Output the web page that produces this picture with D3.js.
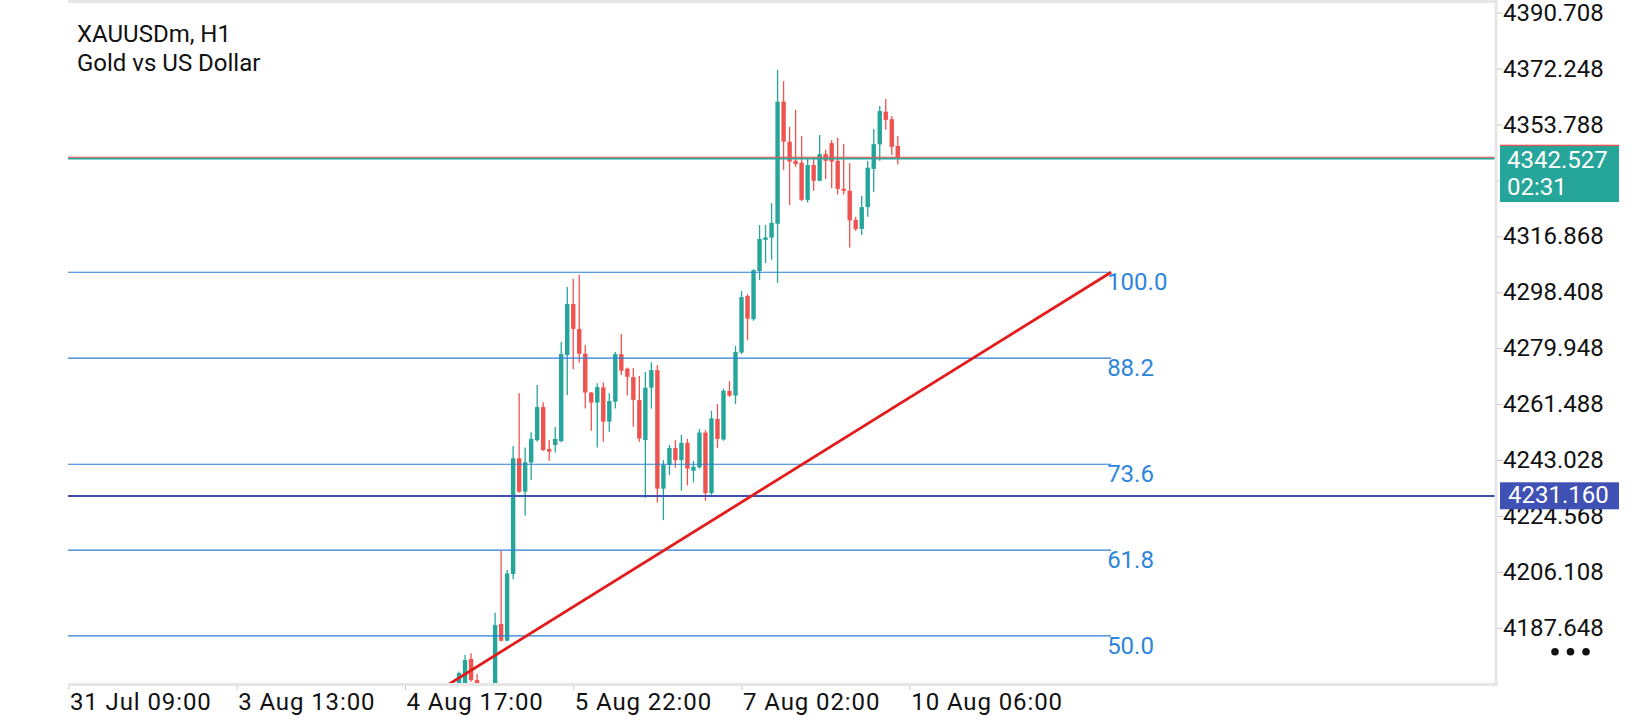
<!DOCTYPE html>
<html>
<head>
<meta charset="utf-8">
<script src="https://cdn.jsdelivr.net/npm/d3@7"></script>
<style>
    body { margin: 0; background: #fff; }
    svg text { font-family: Roboto, "Noto Sans", sans-serif; }
</style>
</head>
<body>
<div id="chart"></div>
<script>
// symbol header
var symbolName = "XAUUSDm, H1";
var symbolDesc = "Gold vs US Dollar";

// H1 candles, bar numbers counted from the "31 Jul 09:00" label
var firstBar = 65;
var opens = [4167.0, 4168.0, 4177.4, 4170.4, 4167.5, 4161.0, 4165.0, 4188.9, 4183.4, 4205.4,
    4243.6, 4232.6, 4242.2, 4249.6, 4260.5, 4246.7, 4248.0, 4249.3, 4277.7, 4294.5,
    4286.3, 4278.1, 4265.3, 4262.0, 4267.0, 4255.7, 4262.3, 4278.0, 4273.2, 4270.4,
    4262.8, 4249.6, 4266.9, 4272.7, 4233.6, 4241.4, 4247.0, 4243.0, 4248.7, 4239.5,
    4240.6, 4252.1, 4232.1, 4256.6, 4249.8, 4265.8, 4264.3, 4278.5, 4297.2, 4289.5,
    4305.4, 4315.7, 4316.4, 4321.0, 4361.3, 4348.1, 4341.8, 4341.2, 4328.9, 4340.4,
    4335.2, 4344.0, 4347.6, 4341.8, 4332.6, 4331.9, 4322.3, 4319.3, 4326.5, 4339.1,
    4347.2, 4358.0, 4355.5, 4346.7];
var highs = [4173.2, 4178.7, 4179.3, 4172.4, 4168.8, 4168.5, 4192.6, 4213.0, 4206.7, 4247.7,
    4265.1, 4247.2, 4252.2, 4267.8, 4262.1, 4249.6, 4253.9, 4282.0, 4300.1, 4302.8,
    4304.1, 4281.0, 4265.5, 4268.4, 4268.6, 4265.1, 4278.7, 4284.6, 4273.6, 4273.3,
    4270.8, 4272.1, 4275.3, 4274.4, 4243.0, 4248.0, 4249.6, 4251.3, 4250.0, 4242.7,
    4253.3, 4252.9, 4259.3, 4261.5, 4266.6, 4269.1, 4280.7, 4298.8, 4297.8, 4306.1,
    4320.6, 4320.6, 4327.8, 4371.8, 4368.1, 4353.0, 4358.6, 4350.0, 4342.6, 4342.9,
    4350.3, 4345.4, 4348.6, 4349.4, 4347.3, 4341.1, 4323.3, 4330.2, 4341.7, 4352.3,
    4359.9, 4362.2, 4356.6, 4350.0];
var lows = [4164.0, 4166.0, 4169.8, 4165.0, 4159.0, 4157.0, 4163.0, 4183.1, 4183.2, 4203.7,
    4232.2, 4224.7, 4236.4, 4249.1, 4246.0, 4242.8, 4245.5, 4248.9, 4264.5, 4273.0,
    4275.2, 4260.0, 4252.7, 4247.2, 4249.1, 4252.4, 4260.0, 4271.1, 4264.3, 4254.0,
    4249.1, 4230.5, 4260.0, 4229.0, 4223.2, 4238.1, 4240.5, 4232.9, 4234.6, 4235.6,
    4240.2, 4229.6, 4231.5, 4247.1, 4249.4, 4263.9, 4261.5, 4278.0, 4282.6, 4289.0,
    4302.4, 4308.0, 4309.1, 4301.5, 4338.8, 4327.2, 4339.8, 4328.5, 4328.0, 4331.9,
    4335.0, 4335.8, 4332.7, 4330.7, 4330.7, 4313.2, 4318.6, 4317.3, 4323.3, 4331.6,
    4341.8, 4352.0, 4343.7, 4340.6];
var closes = [4172.7, 4177.0, 4170.4, 4167.5, 4161.0, 4165.0, 4188.6, 4183.4, 4205.6, 4243.6,
    4232.6, 4242.3, 4250.0, 4260.5, 4246.3, 4245.8, 4250.0, 4278.0, 4294.5, 4286.3,
    4278.1, 4265.3, 4262.0, 4267.1, 4255.7, 4262.5, 4278.0, 4272.5, 4270.5, 4262.9,
    4250.1, 4266.9, 4272.7, 4233.6, 4241.4, 4247.0, 4243.0, 4248.7, 4240.2, 4240.8,
    4252.1, 4232.1, 4256.8, 4250.0, 4265.9, 4264.3, 4278.7, 4296.8, 4289.7, 4305.7,
    4316.0, 4316.5, 4321.3, 4361.3, 4348.1, 4341.5, 4340.7, 4328.9, 4340.4, 4335.2,
    4344.0, 4341.8, 4341.5, 4332.5, 4331.9, 4322.1, 4319.3, 4326.5, 4339.5, 4347.3,
    4358.2, 4355.3, 4346.4, 4342.527];

// time axis
var timeLabels = ["31 Jul 09:00", "3 Aug 13:00", "4 Aug 17:00", "5 Aug 22:00", "7 Aug 02:00", "10 Aug 06:00"];
var timeLabelBars = [0, 28, 56, 84, 112, 140];

// price axis
var priceTicks = [4390.708, 4372.248, 4353.788, 4335.328, 4316.868, 4298.408,
    4279.948, 4261.488, 4243.028, 4224.568, 4206.108, 4187.648];

// current price and drawn objects
var bidPrice = 4342.527;
var askPrice = 4342.98;
var countdown = "02:31";
var levelPrice = 4231.160;

var fibLevels = [0, 23.6, 38.2, 50.0, 61.8, 73.6, 88.2, 100.0];
var fibStartBar = -21, fibStartPrice = 4065.0;
var fibEndBar = 173.5, fibEndPrice = 4305.0;

function init() {
    var w = 1640;
    var h = 720;
    var left = 68;
    var right = 1496;
    var bottom = 683;
    var green = "#26a69a";
    var red = "#ef5350";
    var fibBlue = "#2a7fd4";

    var svg = d3.select("#chart")
        .append("svg")
        .attr("width", w)
        .attr("height", h);

    var xScale = d3.scaleLinear()
        .domain([0, 140])
        .range([68.4, 909.8]);

    var yScale = d3.scaleLinear()
        .domain([4169.44, 4394.86])
        .range([bottom, 0]);

    // clip everything drawn inside the chart window
    svg.append("clipPath")
        .attr("id", "plotClip")
        .append("rect")
        .attr("x", left)
        .attr("y", 0)
        .attr("width", right - left)
        .attr("height", bottom);

    var plot = svg.append("g").attr("clip-path", "url(#plotClip)");

    // candles
    var candles = opens.map(function (o, i) {
        return { bar: firstBar + i, o: o, h: highs[i], l: lows[i], c: closes[i] };
    });

    plot.selectAll(".wick")
        .data(candles)
        .enter()
        .append("line")
        .attr("class", "wick")
        .attr("x1", function (d) { return xScale(d.bar); })
        .attr("x2", function (d) { return xScale(d.bar); })
        .attr("y1", function (d) { return yScale(d.h); })
        .attr("y2", function (d) { return yScale(d.l); })
        .attr("stroke", function (d) { return d.c >= d.o ? green : red; })
        .attr("stroke-width", 1.3);

    plot.selectAll(".body")
        .data(candles)
        .enter()
        .append("rect")
        .attr("class", "body")
        .attr("x", function (d) { return xScale(d.bar) - 2.2; })
        .attr("width", 4.4)
        .attr("y", function (d) { return yScale(Math.max(d.o, d.c)); })
        .attr("height", function (d) {
            return Math.max(1.2, Math.abs(yScale(d.o) - yScale(d.c)));
        })
        .attr("fill", function (d) { return d.c >= d.o ? green : red; });

    // fibonacci levels
    var fib = fibLevels.map(function (lv) {
        return { level: lv, price: fibStartPrice + (fibEndPrice - fibStartPrice) * lv / 100 };
    });

    plot.selectAll(".fibLine")
        .data(fib)
        .enter()
        .append("line")
        .attr("class", "fibLine")
        .attr("x1", xScale(fibStartBar))
        .attr("x2", xScale(fibEndBar))
        .attr("y1", function (d) { return yScale(d.price); })
        .attr("y2", function (d) { return yScale(d.price); })
        .attr("stroke", fibBlue)
        .attr("stroke-width", 1.2);

    // only the levels whose label sits inside the window
    plot.selectAll(".fibLabel")
        .data(fib.filter(function (d) { return yScale(d.price) + 18 < bottom; }))
        .enter()
        .append("text")
        .attr("class", "fibLabel")
        .attr("x", xScale(fibEndBar) - 4)
        .attr("y", function (d) { return yScale(d.price) + 18; })
        .attr("fill", "#2e86da")
        .style("font-size", "24px")
        .text(function (d) { return d.level.toFixed(1); });

    // horizontal level line
    plot.append("line")
        .attr("x1", left)
        .attr("x2", right)
        .attr("y1", yScale(levelPrice))
        .attr("y2", yScale(levelPrice))
        .attr("stroke", "#3f51b5")
        .attr("stroke-width", 2);

    // bid / ask lines
    plot.append("line")
        .attr("x1", left)
        .attr("x2", right)
        .attr("y1", yScale(bidPrice))
        .attr("y2", yScale(bidPrice))
        .attr("stroke", green)
        .attr("stroke-width", 2);

    plot.append("line")
        .attr("x1", left)
        .attr("x2", right)
        .attr("y1", yScale(askPrice))
        .attr("y2", yScale(askPrice))
        .attr("stroke", red)
        .attr("stroke-width", 1);

    // fibo trend line
    plot.append("line")
        .attr("x1", xScale(fibStartBar))
        .attr("y1", yScale(fibStartPrice))
        .attr("x2", xScale(fibEndBar))
        .attr("y2", yScale(fibEndPrice))
        .attr("stroke", "#e31b1b")
        .attr("stroke-width", 2.8);

    // chart frame
    svg.append("line")
        .attr("x1", left).attr("x2", right + 1.5)
        .attr("y1", 1.5).attr("y2", 1.5)
        .attr("stroke", "#e6e6e6").attr("stroke-width", 3);
    svg.append("line")
        .attr("x1", left).attr("x2", right + 1.5)
        .attr("y1", bottom + 1.5).attr("y2", bottom + 1.5)
        .attr("stroke", "#e6e6e6").attr("stroke-width", 3);
    svg.append("line")
        .attr("x1", right).attr("x2", right)
        .attr("y1", 0).attr("y2", bottom + 3)
        .attr("stroke", "#e6e6e6").attr("stroke-width", 3);

    // price axis, the label under the bid tag is not printed
    var by = yScale(bidPrice);
    var yAxis = d3.axisRight(yScale)
        .tickValues(priceTicks)
        .tickSize(6)
        .tickPadding(0)
        .tickFormat(function (d) {
            var ty = yScale(d);
            return (ty > by - 12 && ty < by + 44) ? "" : d3.format(".3f")(d);
        });

    var yg = svg.append("g")
        .attr("transform", "translate(" + (right + 1) + ",0)")
        .call(yAxis);
    yg.select(".domain").remove();
    yg.selectAll("line").attr("stroke", "#c8c8c8");
    yg.selectAll("text")
        .attr("fill", "#111")
        .style("font-size", "24px");

    // time axis
    var xAxis = d3.axisBottom(xScale)
        .tickValues(timeLabelBars)
        .tickSize(4)
        .tickPadding(3)
        .tickFormat(function (d, i) { return timeLabels[i]; });

    var xg = svg.append("g")
        .attr("transform", "translate(0," + (bottom + 3) + ")")
        .call(xAxis);
    xg.select(".domain").remove();
    xg.selectAll("line").attr("stroke", "#c8c8c8");
    xg.selectAll("text")
        .attr("text-anchor", "start")
        .attr("x", 1)
        .attr("fill", "#111")
        .style("font-size", "24px")
        .style("letter-spacing", "0.9px");

    // level price tag
    var ly = yScale(levelPrice);
    svg.append("rect")
        .attr("x", 1500).attr("y", ly - 13.7)
        .attr("width", 119).attr("height", 27)
        .attr("fill", "#3f51b5");
    svg.append("text")
        .attr("x", 1508).attr("y", ly + 7.5)
        .attr("fill", "#fff")
        .style("font-size", "24px")
        .text(levelPrice.toFixed(3));

    // ask tag peeking out behind the bid tag
    svg.append("rect")
        .attr("x", 1500).attr("y", yScale(askPrice) - 12.5)
        .attr("width", 119).attr("height", 27)
        .attr("fill", red);

    svg.append("rect")
        .attr("x", 1500).attr("y", by - 12.5)
        .attr("width", 119).attr("height", 56)
        .attr("fill", green);
    svg.append("text")
        .attr("x", 1507).attr("y", by + 9.3)
        .attr("fill", "#fff")
        .style("font-size", "24px")
        .text(bidPrice.toFixed(3));
    svg.append("text")
        .attr("x", 1507).attr("y", by + 36.6)
        .attr("fill", "#fff")
        .style("font-size", "24px")
        .text(countdown);

    // menu dots
    svg.selectAll(".menuDot")
        .data([0, 1, 2])
        .enter()
        .append("circle")
        .attr("cx", function (d) { return 1555 + d * 15.5; })
        .attr("cy", 651.7)
        .attr("r", 3.8)
        .attr("fill", "#111");

    // header
    svg.append("text")
        .attr("x", 77).attr("y", 42)
        .attr("fill", "#111")
        .style("font-size", "24px")
        .text(symbolName);
    svg.append("text")
        .attr("x", 77).attr("y", 71)
        .attr("fill", "#111")
        .style("font-size", "24px")
        .text(symbolDesc);
}

window.onload = init;
</script>
</body>
</html>
